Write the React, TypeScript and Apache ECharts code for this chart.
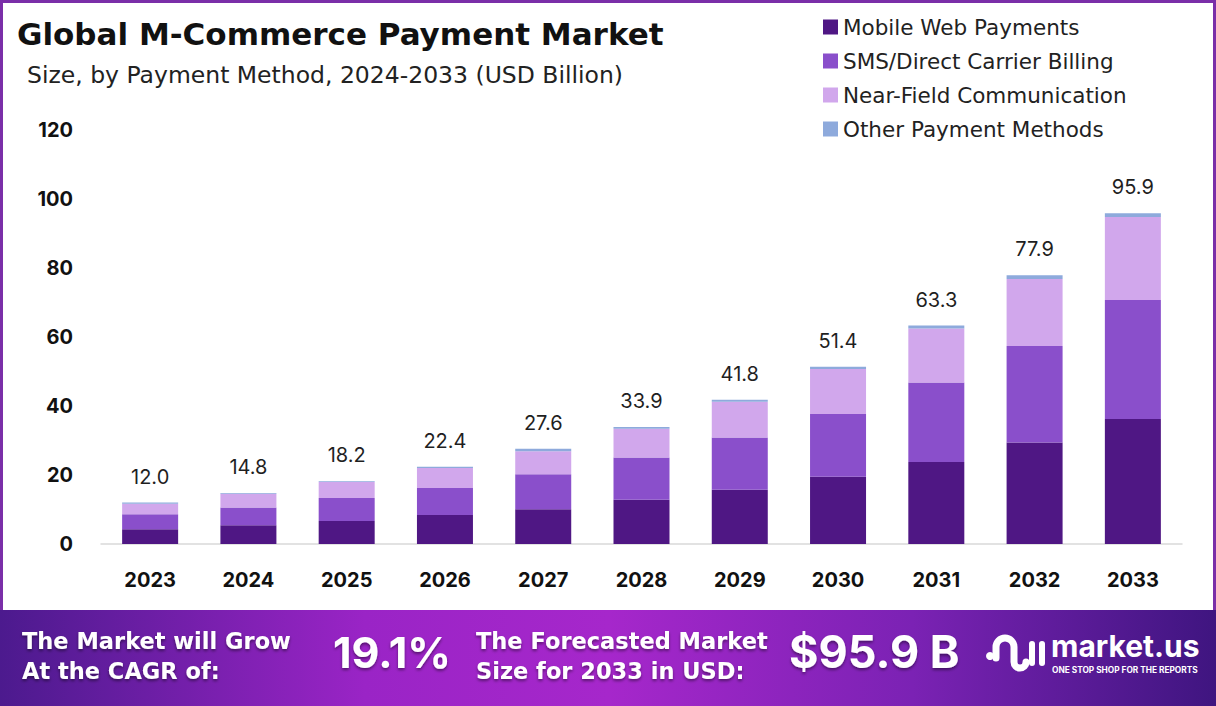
import React, { useEffect, useRef } from "react";
import * as echarts from "echarts";

const years = ["2023", "2024", "2025", "2026", "2027", "2028", "2029", "2030", "2031", "2032", "2033"];
const mobileWeb = [4.3, 5.4, 6.7, 8.4, 10.1, 12.8, 15.7, 19.5, 23.8, 29.4, 36.2];
const smsCarrier = [4.3, 5.2, 6.6, 7.8, 10.1, 12.3, 15.2, 18.2, 23.0, 28.0, 34.5];
const nfc = [3.1, 4.0, 4.7, 5.8, 6.7, 8.3, 10.3, 13.0, 15.7, 19.4, 24.1];
const otherMethods = [0.3, 0.2, 0.2, 0.4, 0.7, 0.5, 0.6, 0.7, 0.8, 1.1, 1.1];
const totals = ["12.0", "14.8", "18.2", "22.4", "27.6", "33.9", "41.8", "51.4", "63.3", "77.9", "95.9"];
const seriesNames = ["Mobile Web Payments", "SMS/Direct Carrier Billing", "Near-Field Communication", "Other Payment Methods"];
const seriesColors = ["#4f1784", "#8a4fcb", "#d1a7ec", "#8eaadc"];

const FONT = "Inter, 'Noto Sans', sans-serif";
const WIDE = "'DejaVu Sans', sans-serif";

echarts.graphic.registerShape(
  "mlogo",
  echarts.graphic.extendPath("M 12 26 L 12 15 A 9 9 0 0 1 30 15 L 30 30 A 6 6 0 0 0 42 30", {})
);

const shadow = {
  textShadowColor: "rgba(0,0,0,0.45)",
  textShadowBlur: 3,
  textShadowOffsetY: 2,
};

export default function App() {
  const ref = useRef<HTMLDivElement>(null);
  useEffect(() => {
    if (!ref.current) return;
    const chart = echarts.init(ref.current, null, { renderer: "svg" });
    const data = [mobileWeb, smsCarrier, nfc, otherMethods];
    const series: any[] = data.map((d, i) => ({
      name: seriesNames[i],
      type: "bar",
      stack: "total",
      barWidth: 56,
      data: d,
      itemStyle: { color: seriesColors[i] },
      label:
        i === 3
          ? {
              show: true,
              position: "top",
              distance: 16,
              formatter: (p: any) => totals[p.dataIndex],
              fontSize: 20,
              color: "#1f1f1f",
              fontFamily: FONT,
            }
          : { show: false },
    }));
    chart.setOption({
      animation: false,
      backgroundColor: "#ffffff",
      grid: { left: 101, right: 34, top: 130, bottom: 162 },
      legend: {
        orient: "vertical",
        left: 818,
        top: 11,
        itemWidth: 15,
        itemHeight: 15,
        itemGap: 12,
        icon: "rect",
        data: seriesNames,
        textStyle: { fontSize: 21.5, color: "#222", fontFamily: WIDE, lineHeight: 21, padding: [0, 0, 0, 0] },
      },
      xAxis: {
        type: "category",
        data: years,
        axisLine: { lineStyle: { color: "#d9d9d9", width: 1.5 } },
        axisTick: { show: false },
        axisLabel: { fontSize: 20, fontWeight: "bold", color: "#111", margin: 26, fontFamily: FONT },
      },
      yAxis: {
        type: "value",
        min: 0,
        max: 120,
        interval: 20,
        splitLine: { show: false },
        axisLine: { show: false },
        axisTick: { show: false },
        axisLabel: { fontSize: 20, fontWeight: "bold", color: "#111", margin: 28, fontFamily: FONT },
      },
      series,
      graphic: [
        {
          type: "rect",
          shape: { x: 1.5, y: 1.5, width: 1213, height: 640 },
          style: { fill: "none", stroke: "#7a2ea8", lineWidth: 3 },
          z: 10,
        },
        {
          type: "text",
          left: 17,
          top: 18,
          style: { text: "Global M-Commerce Payment Market", fontSize: 31, fontWeight: "bold", fill: "#111", fontFamily: WIDE },
        },
        {
          type: "text",
          left: 27,
          top: 63,
          style: { text: "Size, by Payment Method, 2024-2033 (USD Billion)", fontSize: 23.5, fill: "#222", fontFamily: WIDE },
        },
        {
          type: "rect",
          shape: { x: 0, y: 610, width: 1216, height: 96 },
          style: {
            fill: new echarts.graphic.LinearGradient(0, 0, 1, 0, [
              { offset: 0, color: "#4c1a8e" },
              { offset: 0.3, color: "#9a24c6" },
              { offset: 0.5, color: "#a627cb" },
              { offset: 0.75, color: "#7b22b4" },
              { offset: 1, color: "#3f1580" },
            ]),
          },
          z: 20,
        },
        {
          type: "text",
          x: 22,
          y: 626,
          z: 30,
          style: { text: "The Market will Grow\nAt the CAGR of:", fontSize: 22.5, lineHeight: 30, fontWeight: "bold", fill: "#fff", fontFamily: WIDE, ...shadow },
        },
        {
          type: "text",
          x: 333,
          y: 630,
          z: 30,
          style: { text: "19.1%", fontSize: 43, fontWeight: "bold", fill: "#fff", fontFamily: FONT, ...shadow },
        },
        {
          type: "text",
          x: 476,
          y: 626,
          z: 30,
          style: { text: "The Forecasted Market\nSize for 2033 in USD:", fontSize: 22.5, lineHeight: 30, fontWeight: "bold", fill: "#fff", fontFamily: WIDE, ...shadow },
        },
        {
          type: "text",
          x: 789,
          y: 629,
          z: 30,
          style: { text: "$95.9 B", fontSize: 45, fontWeight: "bold", fill: "#fff", fontFamily: FONT, ...shadow },
        },
        { type: "circle", z: 30, shape: { cx: 990, cy: 656, r: 4 }, style: { fill: "#fff" } },
        {
          type: "mlogo",
          z: 30,
          x: 984,
          y: 632,
          scaleX: 1,
          scaleY: 1,
          style: { fill: "none", stroke: "#fff", lineWidth: 7, lineCap: "round" },
        },
        { type: "rect", z: 30, shape: { x: 1029, y: 641, width: 6, height: 25, r: 3 }, style: { fill: "#fff" } },
        { type: "rect", z: 30, shape: { x: 1039, y: 641, width: 6, height: 25, r: 3 }, style: { fill: "#fff" } },
        {
          type: "text",
          x: 1051,
          y: 631,
          z: 30,
          style: { text: "market.us", fontSize: 30, fontWeight: "bold", fill: "#fff", fontFamily: FONT },
        },
        {
          type: "text",
          x: 1052,
          y: 666,
          z: 30,
          style: { text: "ONE STOP SHOP FOR THE REPORTS", fontSize: 8.3, fontWeight: "bold", fill: "#fff", fontFamily: FONT },
        },
      ],
    });
    return () => chart.dispose();
  }, []);
  return <div ref={ref} style={{ position: "fixed", left: 0, top: 0, width: 1216, height: 706 }} />;
}
